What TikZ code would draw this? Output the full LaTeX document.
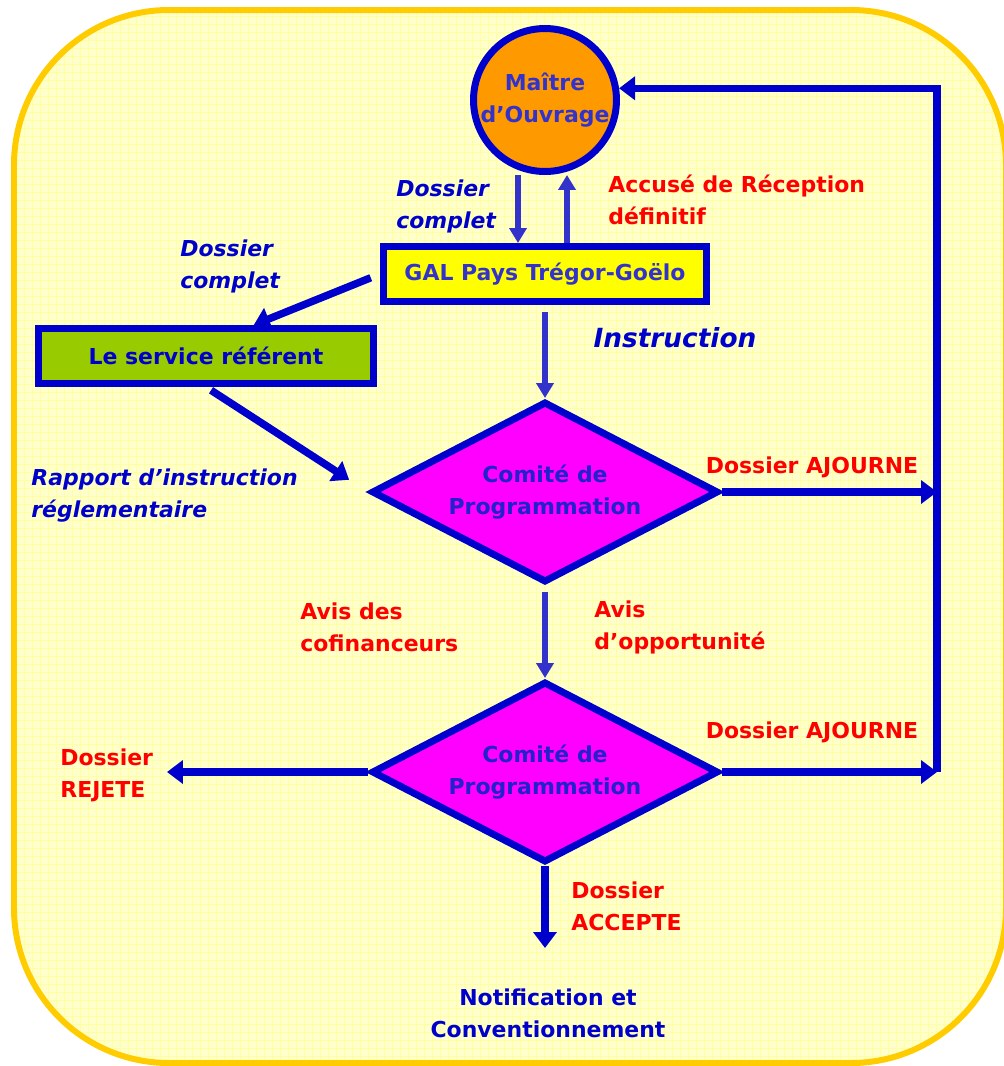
\documentclass[tikz,border=0pt]{standalone}
\usepackage{fontspec}
\setmainfont{DejaVu Sans}
\usetikzlibrary{positioning,shapes.geometric,arrows.meta}
\definecolor{cadre}{HTML}{FFCC00}
\definecolor{fond}{HTML}{FFFFCC}
\definecolor{grille}{HTML}{FFFF9F}
\definecolor{bleu}{HTML}{0000CC}
\definecolor{bleuclair}{HTML}{3333CC}
\definecolor{bleutexte}{HTML}{2222CC}
\definecolor{rouge}{HTML}{FF0000}
\definecolor{orangemo}{HTML}{FF9900}
\definecolor{vert}{HTML}{99CC00}
\definecolor{rose}{HTML}{FF00FF}
\definecolor{jaune}{HTML}{FFFF00}
\newcommand\police{\fontsize{12.5}{18.2}\selectfont\bfseries}
\tikzset{
  boite/.style={draw=bleu,line width=0.14cm,rectangle,minimum height=1.1cm,font=\police},
  comite/.style={draw=bleu,line width=0.14cm,diamond,aspect=1.9,inner sep=0pt,fill=rose,minimum width=6.94cm,minimum height=3.62cm,text=bleutexte,align=center,font=\police},
  fleche/.style={draw=bleu,line width=0.15cm,-{Triangle[length=0.32cm,width=0.46cm]}},
  flechefine/.style={draw=bleuclair,line width=0.11cm,-{Triangle[length=0.3cm,width=0.34cm]}},
  lblbleu/.style={text=bleu,align=left,inner sep=0pt,font=\police\itshape},
  lblrouge/.style={text=rouge,align=left,inner sep=0pt,font=\police}
}
\begin{document}
\begin{tikzpicture}[x=0.02cm,y=-0.02cm]
        \useasboundingbox (0,0) rectangle (1004,1066);
        \begin{scope}
            \clip[rounded corners=3.1cm] (14,10) rectangle (1006,1063);
            \fill[fond] (0,0) rectangle (1010,1070);
            \draw[grille,line width=0.3pt,step=0.16cm] (0,0) grid (1010,1070);
        \end{scope}
        \draw[cadre,line width=0.12cm,rounded corners=3.1cm] (14,10) rectangle (1006,1063);

        \node(mo)[circle,draw=bleu,line width=0.14cm,fill=orangemo,minimum size=2.86cm,inner sep=0pt,text=bleuclair,align=center,font=\police] at (545,100) {Maître\\d’Ouvrage};
        \node(gal)[boite,fill=jaune,text=bleuclair,minimum width=6.46cm] at (545,274) {GAL Pays Trégor-Goëlo};
        \node(svc)[boite,fill=vert,text=bleu,minimum width=6.72cm] at (206,356) {Le service référent};
        \node(cp1)[comite] at (545,492) {Comité de\\Programmation};
        \node(cp2)[comite] at (545,772) {Comité de\\Programmation};
        \coordinate (boucle) at (937,772);
        \coordinate (rejet) at (167,772);
        \coordinate (fin) at (545,948);

        \draw[flechefine] ([xshift=-0.54cm]mo.south) -- ([xshift=-0.54cm]gal.north);
        \draw[flechefine] ([xshift=0.44cm]gal.north) -- ([xshift=0.44cm]mo.south);
        \draw[fleche,shorten <=0.2cm] (gal.west) -- (svc.33);
        \draw[fleche,shorten <=0.12cm,shorten >=0.45cm] (svc.south) -- (cp1.west);
        \draw[flechefine,shorten <=0.14cm] (gal.south) -- (cp1.north);
        \draw[flechefine,shorten <=0.12cm] (cp1.south) -- (cp2.north);
        \draw[fleche] (cp1.east) -- (cp1.east -| boucle);
        \draw[fleche] (cp2.east) -- (boucle);
        \draw[fleche] (cp2.west) -- (rejet);
        \draw[fleche] (cp2.south) -- (fin);
        \draw[fleche] (boucle) |- (mo.9);

        \node(dc1)[lblbleu,anchor=west] at (396,206) {Dossier\\complet};
        \node(accuse)[lblrouge,anchor=west] at (608,200) {Accusé de Réception\\définitif};
        \node(dc2)[lblbleu,anchor=west] at (180,266) {Dossier\\complet};
        \node(instr)[text=bleu,font=\fontsize{15}{18}\selectfont\bfseries\itshape] at (675,338) {Instruction};
        \node(rapport)[lblbleu,anchor=west] at (31,496) {Rapport d’instruction\\réglementaire};
        \node(aj1)[lblrouge] at (812,467) {Dossier AJOURNE};
        \node(aj2)[lblrouge] at (812,732) {Dossier AJOURNE};
        \node(cofin)[lblrouge,anchor=west] at (300,627) {Avis des\\cofinanceurs};
        \node(opport)[lblrouge,anchor=west] at (594,627) {Avis\\d’opportunité};
        \node(rejete)[lblrouge,anchor=west] at (60,775) {Dossier\\REJETE};
        \node(accepte)[lblrouge,anchor=west] at (571,906) {Dossier\\ACCEPTE};
        \node(notif)[text=bleu,align=center,font=\police] at (548,1013) {Notification et\\Conventionnement};
    \end{tikzpicture}
\end{document}
